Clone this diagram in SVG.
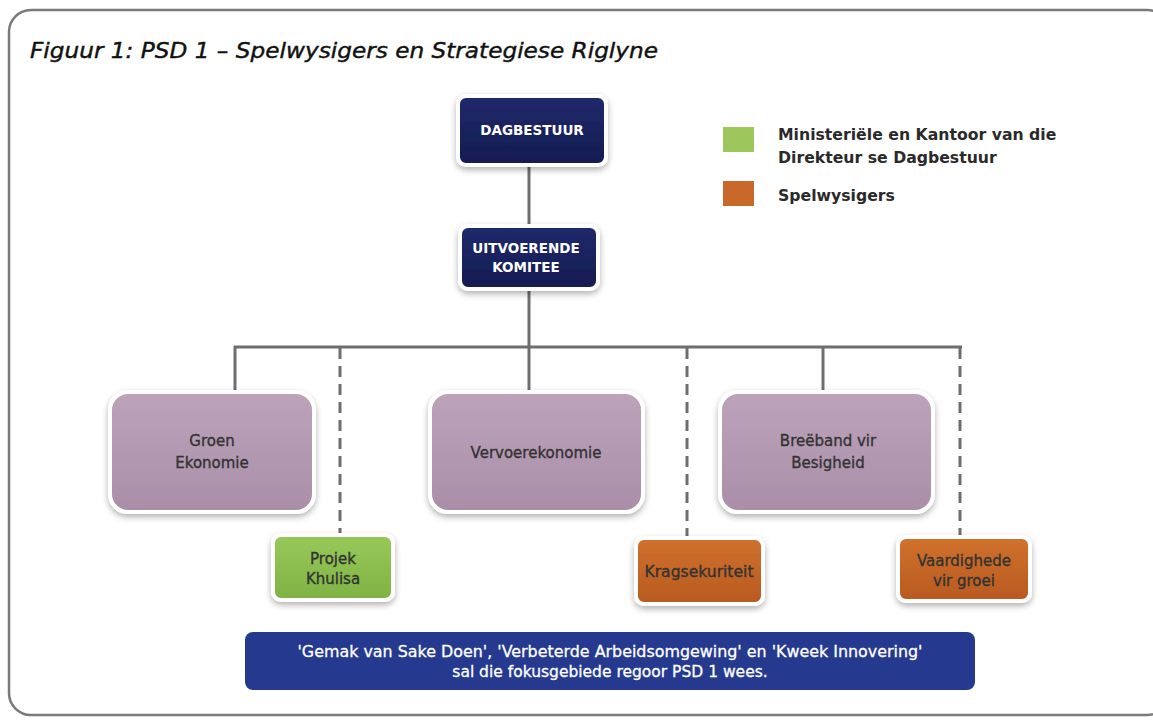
<svg xmlns="http://www.w3.org/2000/svg" width="1153" height="720" viewBox="0 0 1153 720">
<defs>
<filter id="sh" x="-20%" y="-20%" width="140%" height="150%">
<feDropShadow dx="0" dy="3" stdDeviation="3" flood-color="#000" flood-opacity="0.3"/>
</filter>
<linearGradient id="gNavy" x1="0" y1="0" x2="0" y2="1"><stop offset="0" stop-color="#1f2a6b"/><stop offset="1" stop-color="#141b50"/></linearGradient>
<linearGradient id="gPink" x1="0" y1="0" x2="0" y2="1"><stop offset="0" stop-color="#bca3ba"/><stop offset="1" stop-color="#aa8ea8"/></linearGradient>
<linearGradient id="gGreen" x1="0" y1="0" x2="0" y2="1"><stop offset="0" stop-color="#97c95a"/><stop offset="1" stop-color="#7fb244"/></linearGradient>
<linearGradient id="gOrange" x1="0" y1="0" x2="0" y2="1"><stop offset="0" stop-color="#d0712e"/><stop offset="1" stop-color="#b85a1f"/></linearGradient>
</defs>
<style>
.frame{fill:#fff;stroke:#7a7a7a;stroke-width:2.5}
.box{stroke:#fff;stroke-width:4;filter:url(#sh)}
.navy{fill:url(#gNavy)}
.pink{fill:url(#gPink)}
.green{fill:url(#gGreen)}
.orange{fill:url(#gOrange)}
.wt{font-family:"DejaVu Sans",sans-serif;font-size:13.5px;font-weight:bold;fill:#fff;text-anchor:middle}
.dt{font-family:"DejaVu Sans",sans-serif;font-size:15px;fill:#333;stroke:#333;stroke-width:0.35;text-anchor:middle}
.lg{font-family:"DejaVu Sans",sans-serif;font-size:15.7px;font-weight:bold;fill:#2a2a2a}
.ban{font-family:"DejaVu Sans",sans-serif;font-size:15.5px;fill:#fff;stroke:#fff;stroke-width:0.3;text-anchor:middle}
.title{font-family:"DejaVu Sans",sans-serif;font-size:21px;font-style:italic;fill:#111;stroke:#111;stroke-width:0.4}
.solid{stroke:#6e6e6e;stroke-width:3;fill:none}
.dash{stroke:#6e6e6e;stroke-width:3;fill:none;stroke-dasharray:11 7}
</style>
<rect class="frame" x="9" y="10" width="1160" height="705" rx="22"/>
<text class="title" x="30" y="58" textLength="628" lengthAdjust="spacingAndGlyphs">Figuur 1: PSD 1 – Spelwysigers en Strategiese Riglyne</text>

<g id="connectors">
<line class="solid" x1="529" y1="165" x2="529" y2="228"/>
<line class="solid" x1="529" y1="289" x2="529" y2="347"/>
<line class="solid" x1="234" y1="347" x2="962" y2="347"/>
<line class="solid" x1="235" y1="346" x2="235" y2="392"/>
<line class="solid" x1="529" y1="346" x2="529" y2="392"/>
<line class="solid" x1="823" y1="346" x2="823" y2="392"/>
<line class="dash" x1="340" y1="348" x2="340" y2="534"/>
<line class="dash" x1="687" y1="348" x2="687" y2="537"/>
<line class="dash" x1="960" y1="348" x2="960" y2="536"/>
</g>

<g id="dagbestuur">
<rect class="box navy" x="458" y="96" width="148" height="69" rx="8"/>
<text class="wt" x="532" y="135">DAGBESTUUR</text>
</g>
<g id="uitvoerende">
<rect class="box navy" x="460" y="226" width="138" height="63" rx="8"/>
<text class="wt" x="526" y="253">UITVOERENDE</text>
<text class="wt" x="526" y="272">KOMITEE</text>
</g>
<g id="groen">
<rect class="box pink" x="110" y="392" width="204" height="120" rx="18"/>
<text class="dt" x="212" y="446">Groen</text>
<text class="dt" x="212" y="468">Ekonomie</text>
</g>
<g id="vervoer">
<rect class="box pink" x="430" y="392" width="213" height="120" rx="18"/>
<text class="dt" x="536" y="458">Vervoerekonomie</text>
</g>
<g id="breeband">
<rect class="box pink" x="720" y="392" width="213" height="120" rx="18"/>
<text class="dt" x="828" y="446">Breëband vir</text>
<text class="dt" x="828" y="468">Besigheid</text>
</g>
<g id="projek">
<rect class="box green" x="273" y="535" width="120" height="65" rx="8"/>
<text class="dt" x="333" y="564">Projek</text>
<text class="dt" x="333" y="584">Khulisa</text>
</g>
<g id="krag">
<rect class="box orange" x="636" y="538" width="127" height="66" rx="8"/>
<text class="dt" x="699" y="577" textLength="109" lengthAdjust="spacingAndGlyphs">Kragsekuriteit</text>
</g>
<g id="vaardig">
<rect class="box orange" x="898" y="537" width="132" height="64" rx="8"/>
<text class="dt" x="964" y="566">Vaardighede</text>
<text class="dt" x="964" y="586">vir groei</text>
</g>
<g id="banner">
<rect x="245" y="632" width="730" height="58" rx="8" fill="#253a8e"/>
<text class="ban" x="610" y="657" textLength="625" lengthAdjust="spacingAndGlyphs">'Gemak van Sake Doen', 'Verbeterde Arbeidsomgewing' en 'Kweek Innovering'</text>
<text class="ban" x="610" y="677">sal die fokusgebiede regoor PSD 1 wees.</text>
</g>
<g id="legend">
<rect x="723" y="127" width="31" height="25" fill="#9dc65c"/>
<rect x="723" y="181" width="31" height="25" fill="#c8682a"/>
<text class="lg" x="778" y="140">Ministeriële en Kantoor van die</text>
<text class="lg" x="778" y="163">Direkteur se Dagbestuur</text>
<text class="lg" x="778" y="201">Spelwysigers</text>
</g>
</svg>
